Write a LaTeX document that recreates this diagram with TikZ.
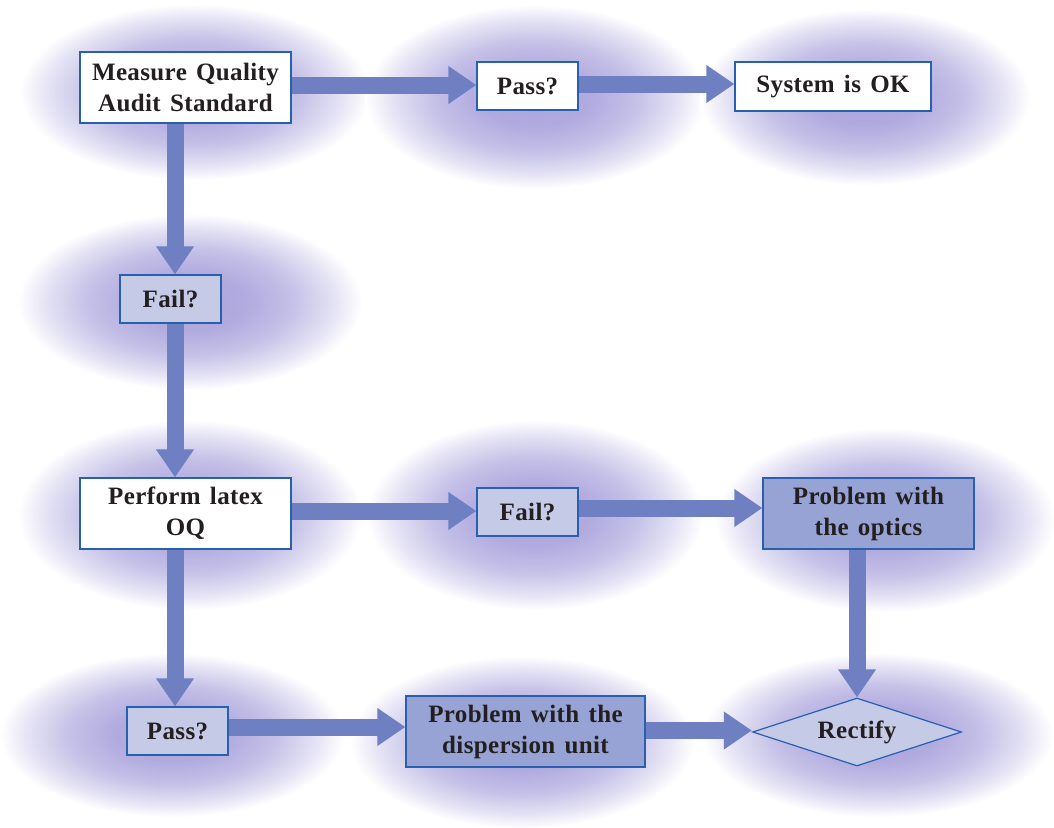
\documentclass[tikz,border=0pt]{standalone}
\usepackage{fontspec}
\setmainfont{Liberation Serif}[LetterSpace=1.5,WordSpace=1.4]
\usetikzlibrary{arrows.meta,shapes.geometric,backgrounds}
\definecolor{arrowc}{RGB}{110,128,194}
\definecolor{borderc}{RGB}{40,95,175}
\definecolor{lightc}{RGB}{197,202,230}
\definecolor{medc}{RGB}{151,163,212}
\definecolor{textc}{RGB}{35,31,32}
\definecolor{cloudc}{RGB}{150,142,212}
\pgfdeclareradialshading{cloudsh}{\pgfpoint{0bp}{0bp}}{%
  color(0bp)=(cloudc!80!white); color(8bp)=(cloudc!75!white);
  color(15bp)=(cloudc!55!white); color(21bp)=(cloudc!25!white);
  color(25bp)=(white); color(50bp)=(white)}
\begin{document}
\begin{tikzpicture}[x=1pt,y=-1pt,
  box/.style={draw=borderc, line width=1.2pt, align=center, inner sep=0pt, text=textc,
    font=\bfseries\fontsize{25}{31}\selectfont},
  whitebox/.style={box, fill=white},
  lightbox/.style={box, fill=lightc},
  medbox/.style={box, fill=medc},
  flow/.style={line width=17pt, draw=arrowc, -{Triangle[length=28pt,width=36pt,fill=arrowc]}},
  cloud/.style={shading=cloudsh}
]
\useasboundingbox (0,0) rectangle (1054,827);

\begin{scope}[on background layer]
\fill[white] (0,0) rectangle (1054,827);
\shade[cloud] (195,92) ellipse [x radius=175, y radius=88];
\shade[cloud] (535,97) ellipse [x radius=170, y radius=92];
\shade[cloud] (865,97) ellipse [x radius=165, y radius=88];
\shade[cloud] (190,302) ellipse [x radius=172, y radius=88];
\shade[cloud] (190,515) ellipse [x radius=172, y radius=95];
\shade[cloud] (535,515) ellipse [x radius=168, y radius=95];
\shade[cloud] (885,520) ellipse [x radius=170, y radius=92];
\shade[cloud] (172,735) ellipse [x radius=172, y radius=82];
\shade[cloud] (522,742) ellipse [x radius=172, y radius=86];
\shade[cloud] (878,735) ellipse [x radius=175, y radius=82];
\end{scope}

\node[whitebox, minimum width=211pt, minimum height=71pt] (mq) at (185.5,87.5) {Measure Quality\\Audit Standard};
\node[whitebox, minimum width=101pt, minimum height=48pt] (p1) at (527.5,86) {Pass?};
\node[whitebox, minimum width=196pt, minimum height=49pt] (ok) at (833,86.5) {System is OK};
\node[lightbox, minimum width=101pt, minimum height=48pt] (f1) at (170.5,299) {Fail?};
\node[whitebox, minimum width=211pt, minimum height=71pt] (oq) at (185.5,513.5) {Perform latex\\OQ};
\node[lightbox, minimum width=101pt, minimum height=48pt] (f2) at (527.5,512) {Fail?};
\node[medbox, minimum width=211pt, minimum height=71pt] (op) at (868.5,513.5) {Problem with\\the optics};
\node[lightbox, minimum width=101pt, minimum height=48pt] (p2) at (177.5,731) {Pass?};
\node[medbox, minimum width=239pt, minimum height=71pt] (du) at (525.5,731.5) {Problem with the\\dispersion unit};
\node[lightbox, diamond, aspect=3.07, minimum width=209pt, minimum height=68pt] (rc) at (857,732) {Rectify};

\begin{scope}[on background layer]
\coordinate (a1) at ([yshift=2.5pt]mq.east);
\draw[flow] (a1) -- (a1 -| p1.west);
\coordinate (a2) at ([yshift=2pt]p1.east);
\draw[flow] (a2) -- (a2 -| ok.west);
\coordinate (a3) at ([xshift=-10.5pt]mq.south);
\draw[flow] (a3) -- (a3 |- f1.north);
\coordinate (a4) at ([xshift=4.5pt]f1.south);
\draw[flow] (a4) -- (a4 |- oq.north);
\coordinate (a5) at ([yshift=2.5pt]oq.east);
\draw[flow] (a5) -- (a5 -| f2.west);
\coordinate (a6) at ([yshift=4pt]f2.east);
\draw[flow] (a6) -- (a6 -| op.west);
\coordinate (a7) at ([xshift=-10.5pt]oq.south);
\draw[flow] (a7) -- (a7 |- p2.north);
\coordinate (a8) at ([yshift=4pt]p2.east);
\draw[flow] (a8) -- (a8 -| du.west);
\coordinate (a9) at (op.south -| rc.north);
\draw[flow] (a9) -- (rc.north);
\coordinate (a10) at ([yshift=1pt]du.east);
\draw[flow] (a10) -- (a10 -| rc.west);
\end{scope}
\end{tikzpicture}
\end{document}
